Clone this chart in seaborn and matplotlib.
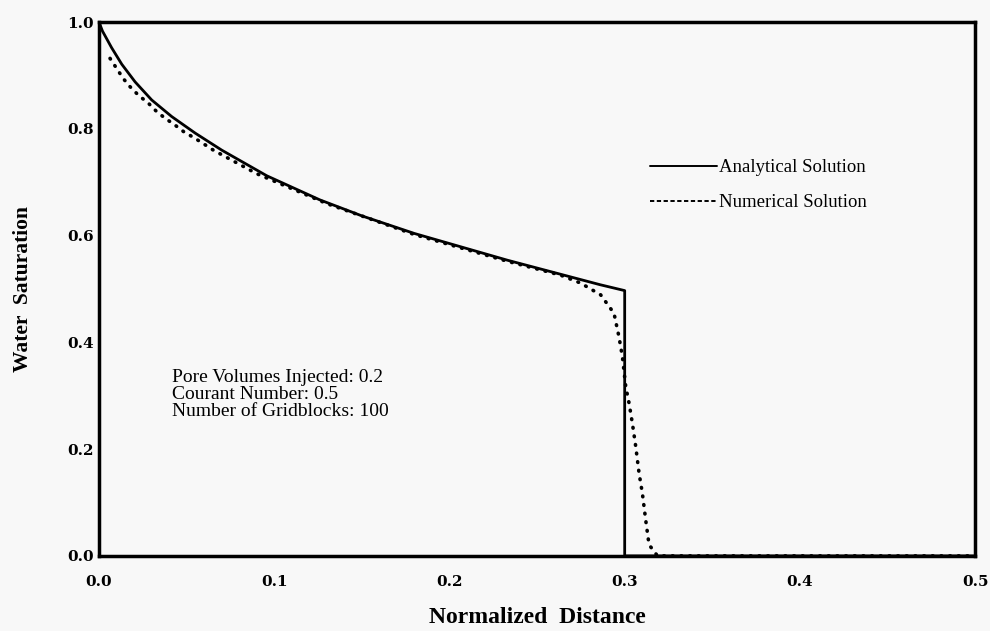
import numpy as np
import pandas as pd
import matplotlib
matplotlib.use("Agg")
import matplotlib.pyplot as plt
import seaborn as sns

# ---- data ----
analytical_x = [0.0, 0.002, 0.0072, 0.013, 0.0206, 0.0301, 0.0415, 0.0549, 0.0701,
                0.0958, 0.126, 0.150, 0.180, 0.233, 0.286, 0.300, 0.300, 0.500]
analytical_y = [1.0, 0.983, 0.952, 0.921, 0.888, 0.854, 0.823, 0.792, 0.760,
                0.712, 0.667, 0.637, 0.604, 0.554, 0.508, 0.497, 0.0, 0.0]

numerical_x = [0.0063, 0.0101, 0.0139, 0.0177, 0.0225, 0.0282, 0.033, 0.0377, 0.0434,
               0.0482, 0.0549, 0.0606, 0.0653, 0.090, 0.130, 0.180,
               0.233, 0.2634, 0.2749, 0.2863, 0.2939, 0.2967, 0.2987, 0.3006, 0.3025,
               0.3044, 0.3063, 0.3082, 0.3101, 0.312, 0.3139, 0.3187, 0.500]
numerical_y = [0.932, 0.913, 0.894, 0.879, 0.863, 0.848, 0.832, 0.820, 0.807,
               0.795, 0.782, 0.770, 0.760, 0.716, 0.660, 0.602,
               0.552, 0.526, 0.511, 0.489, 0.4545, 0.411, 0.373, 0.317, 0.286,
               0.248, 0.205, 0.155, 0.117, 0.067, 0.021, 0.0, 0.0]

x_ticks = [0.0, 0.1, 0.2, 0.3, 0.4, 0.5]
y_ticks = [0.0, 0.2, 0.4, 0.6, 0.8, 1.0]

info_lines = ["Pore Volumes Injected: 0.2", "Courant Number: 0.5", "Number of Gridblocks: 100"]

sns.set_style("white")
plt.rcParams['font.family'] = ['Liberation Serif', 'DejaVu Serif']
plt.rcParams['text.color'] = 'black'
plt.rcParams['axes.labelcolor'] = 'black'
plt.rcParams['xtick.color'] = 'black'
plt.rcParams['ytick.color'] = 'black'

bg = "#f8f8f8"
fig = plt.figure(figsize=(9.9, 6.31), dpi=100, facecolor=bg)
ax = fig.add_axes([0.100, 0.119, 0.885, 0.846])
ax.set_facecolor(bg)

df_a = pd.DataFrame({"x": analytical_x, "y": analytical_y})
df_n = pd.DataFrame({"x": numerical_x, "y": numerical_y})

sns.lineplot(data=df_a, x="x", y="y", ax=ax, sort=False, estimator=None,
             color="black", linewidth=2.0, label="Analytical Solution", zorder=3)
sns.lineplot(data=df_n, x="x", y="y", ax=ax, sort=False, estimator=None,
             color="black", linewidth=2.6, label="Numerical Solution", zorder=2)
num_line = ax.lines[1]
num_line.set_linestyle((0, (0.2, 2.2)))
num_line.set_dash_capstyle("round")

ax.set_xlim(0, 0.5)
ax.set_ylim(0, 1.0)
ax.set_xticks(x_ticks)
ax.set_yticks(y_ticks)
ax.set_xticklabels([f"{v:.1f}" for v in x_ticks], fontfamily="DejaVu Serif",
                   fontweight="bold", fontsize=11, color="black")
ax.set_yticklabels([f"{v:.1f}" for v in y_ticks], fontfamily="DejaVu Serif",
                   fontweight="bold", fontsize=11, color="black")
ax.tick_params(axis="both", direction="in", length=5, width=2, color="black")
ax.tick_params(axis="x", pad=14)
ax.tick_params(axis="y", pad=4)

for s in ax.spines.values():
    s.set_visible(True)
    s.set_linewidth(2.5)
    s.set_color("black")
    s.set_zorder(4)

ax.set_xlabel("Normalized  Distance", fontsize=17, fontweight="bold", labelpad=13,
              color="black")
ax.set_ylabel("Water  Saturation", fontsize=15.5, fontweight="bold", labelpad=24,
              color="black")

ax.text(0.0417, 0.303, "\n".join(info_lines), fontsize=14, va="center", ha="left",
        linespacing=1.0, color="black")

leg = ax.legend(loc="upper left", bbox_to_anchor=(0.62, 0.757), frameon=False,
                fontsize=13.5, handlelength=3.6, handletextpad=0.1, labelspacing=0.95,
                borderaxespad=0)
for t in leg.get_texts():
    t.set_color("black")
for h in leg.get_lines():
    h.set_linewidth(1.4)
    h.set_dash_capstyle("butt")
leg.get_lines()[1].set_linestyle((0, (2.2, 1.3)))

fig.savefig("out.png", dpi=100, facecolor=bg)
